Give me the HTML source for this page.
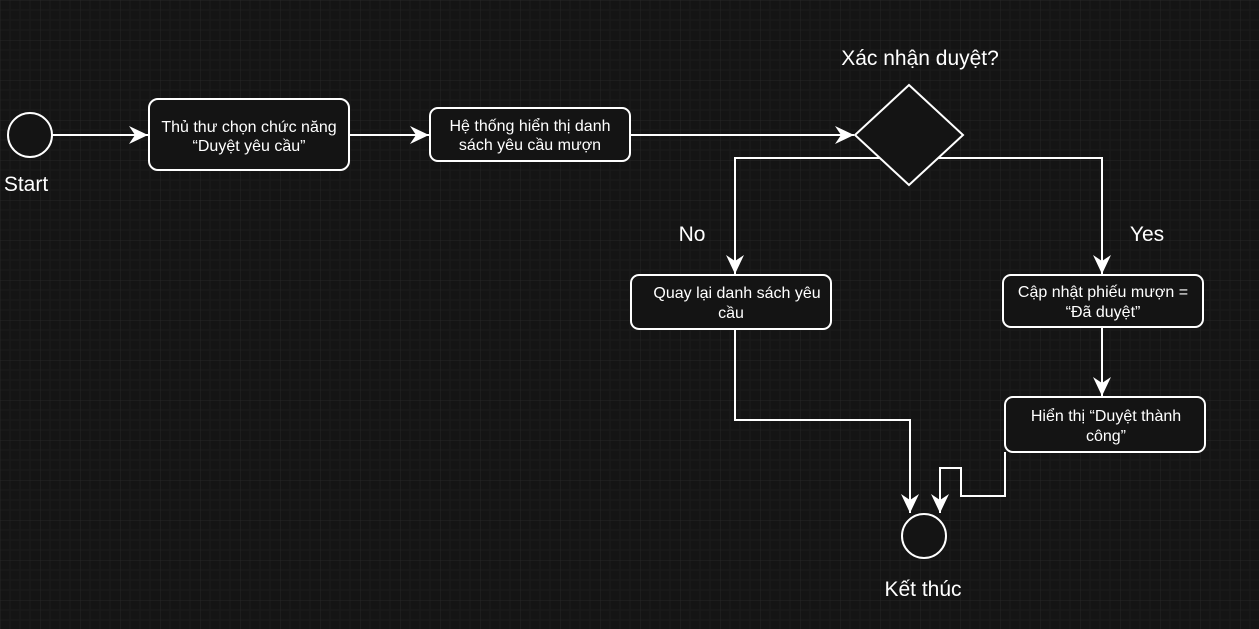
<!DOCTYPE html>
<html><head><meta charset="utf-8"><style>
html,body{margin:0;padding:0;background:#141414;}
svg{display:block;}
text{font-family:"Liberation Sans",Arial,sans-serif;fill:#fff;}
</style></head><body>
<svg width="1259" height="629" xmlns="http://www.w3.org/2000/svg">
<defs>
<pattern id="g" width="40" height="40" patternUnits="userSpaceOnUse">
<path d="M10 0V40M20 0V40M30 0V40M0 10H40M0 20H40M0 30H40" stroke="#1b1b1b" stroke-width="1"/>
<path d="M0 0V40M0 0H40" stroke="#262626" stroke-width="1"/>
</pattern>
<marker id="b" markerWidth="20" markerHeight="20" refX="19" refY="10" orient="auto" markerUnits="userSpaceOnUse" viewBox="0 0 20 20">
<path d="M0,1 L19,10 L0,19 L6,10 Z" fill="#fff"/>
</marker>
</defs>
<rect width="1259" height="629" fill="#141414"/>
<rect width="1259" height="629" fill="url(#g)"/>
<g stroke="#fff" stroke-width="2" fill="none">
<circle cx="30" cy="135" r="22" fill="#141414"/>
<circle cx="924" cy="536" r="22" fill="#141414"/>
<path d="M52 135H148" marker-end="url(#b)"/>
<path d="M350 135H429" marker-end="url(#b)"/>
<path d="M631 135H854" marker-end="url(#b)"/>
<path d="M885 158H735V274" marker-end="url(#b)"/>
<path d="M933 158H1102V274" marker-end="url(#b)"/>
<path d="M1102 328V396" marker-end="url(#b)"/>
<path d="M735 330V420H910V513" marker-end="url(#b)"/>
<path d="M1005 452V496H961V468H940V513" marker-end="url(#b)"/>
<rect x="149" y="99" width="200" height="71" rx="9" fill="#141414"/>
<rect x="430" y="108" width="200" height="53" rx="8" fill="#141414"/>
<path d="M909 85L963 135L909 185L855 135Z" fill="#141414"/>
<rect x="631" y="275" width="200" height="54" rx="8" fill="#141414"/>
<rect x="1003" y="275" width="200" height="52" rx="8" fill="#141414"/>
<rect x="1005" y="397" width="200" height="55" rx="8" fill="#141414"/>
</g>
<g font-size="16" text-anchor="middle">
<text x="249" y="132">Thủ thư chọn chức năng</text>
<text x="249" y="151">“Duyệt yêu cầu”</text>
<text x="530" y="131">Hệ thống hiển thị danh</text>
<text x="530" y="150">sách yêu cầu mượn</text>
<text x="737" y="298">Quay lại danh sách yêu</text>
<text x="731" y="318">cầu</text>
<text x="1103" y="297">Cập nhật phiếu mượn =</text>
<text x="1103" y="317">“Đã duyệt”</text>
<text x="1106" y="421">Hiển thị “Duyệt thành</text>
<text x="1106" y="441">công”</text>
</g>
<g font-size="21" text-anchor="middle">
<text x="920" y="65">Xác nhận duyệt?</text>
<text x="692" y="241">No</text>
<text x="1147" y="241">Yes</text>
<text x="923" y="596">Kết thúc</text>
<text x="26" y="191">Start</text>
</g>
</svg>
</body></html>
